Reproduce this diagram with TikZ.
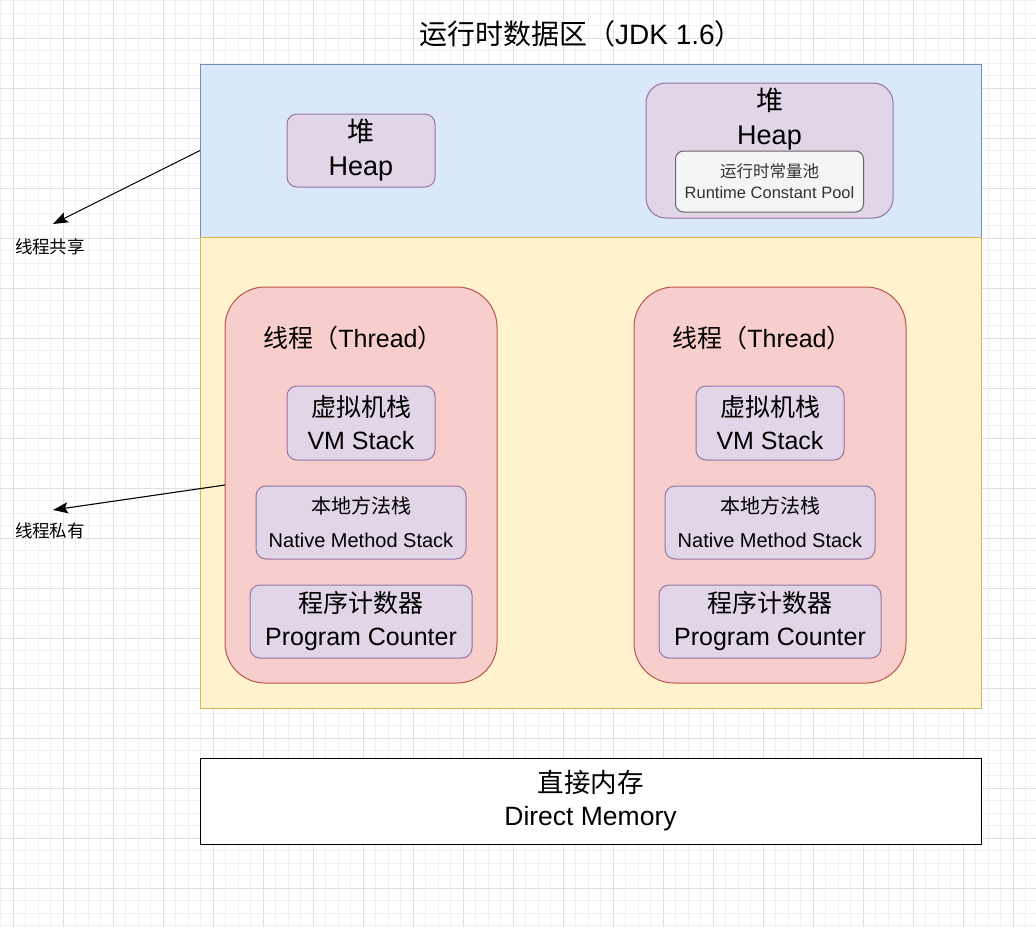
\documentclass[tikz,border=0pt]{standalone}
\usepackage{fontspec}
\setmainfont{Liberation Sans}
\newfontfamily\cjk{Noto Sans CJK SC}
\usepackage{xcolor}
\usetikzlibrary{positioning, calc, arrows.meta}

\definecolor{blueFill}{HTML}{DAE8FC}
\definecolor{blueLine}{HTML}{6C8EBF}
\definecolor{yellowFill}{HTML}{FFF2CC}
\definecolor{yellowLine}{HTML}{D6B656}
\definecolor{redFill}{HTML}{F8CECC}
\definecolor{redLine}{HTML}{B85450}
\definecolor{purpleFill}{HTML}{E1D5E7}
\definecolor{purpleLine}{HTML}{9673A6}
\definecolor{grayFill}{HTML}{F5F5F5}
\definecolor{grayLine}{HTML}{666666}
\definecolor{grayText}{HTML}{333333}
\definecolor{minorGrid}{HTML}{F0F0F0}
\definecolor{majorGrid}{HTML}{E0E0E0}

\begin{document}
\begin{tikzpicture}[x=1pt, y=-1pt, >=Latex, line width=1pt]
    % Styles
    \tikzset{
        region/.style={rectangle, draw, minimum width=781pt, outer sep=0pt},
        thread/.style={rectangle, draw=redLine, fill=redFill, rounded corners=40pt, minimum width=272pt, minimum height=396pt, outer sep=0pt},
        part/.style={rectangle, draw=purpleLine, fill=purpleFill, rounded corners=10pt, align=center, minimum height=73pt, outer sep=0pt},
        pool/.style={rectangle, draw=grayLine, fill=grayFill, text=grayText, rounded corners=8pt, align=center, minimum width=188pt, minimum height=61pt, outer sep=0pt},
        note/.style={font=\fontsize{17.5}{21}\selectfont\cjk},
        line/.style={draw, -{Stealth[length=15pt, width=11pt, inset=3pt]}, line width=1.1pt},
        big/.style={font=\fontsize{27}{34}\selectfont},
        mid/.style={font=\fontsize{25}{33}\selectfont},
        small/.style={font=\fontsize{20}{34}\selectfont}
    }

    \useasboundingbox (0,0) rectangle (1036,927);

    % Grid
    \fill[white] (0,0) rectangle (1036,927);
    \foreach \i in {0,...,82} \draw[minorGrid, line width=0.8pt] ({0.8+12.5*\i},0) -- ({0.8+12.5*\i},927);
    \foreach \i in {0,...,74} \draw[minorGrid, line width=0.8pt] (0,{0.8+12.5*\i}) -- (1036,{0.8+12.5*\i});
    \foreach \i in {0,...,20} \draw[majorGrid, line width=0.8pt] ({13.3+50*\i},0) -- ({13.3+50*\i},927);
    \foreach \i in {0,...,17} \draw[majorGrid, line width=0.8pt] (0,{38.3+50*\i}) -- (1036,{38.3+50*\i});

    % Title
    \node [font=\fontsize{28}{34}\selectfont] (title) at (581,34) {{\cjk 运行时数据区（}JDK 1.6{\cjk ）}};

    % Regions
    \node [region, draw=blueLine, fill=blueFill, minimum height=173pt] (shared) at (590.5,150.5) {};
    \node [region, draw=yellowLine, fill=yellowFill, minimum height=471pt] (private) at (590.5,472.5) {};
    \node [region, draw=black, fill=white, minimum height=86pt, align=center, font=\fontsize{26.5}{33}\selectfont] (direct) at (590.5,801) {{\cjk 直接内存}\\Direct Memory};

    % Heap
    \node [part, big, minimum width=148pt] (heapA) at (361,150.5) {{\cjk 堆}\\Heap};
    \node [part, minimum width=247pt, minimum height=135pt, rounded corners=20pt] (heapB) at (769.5,150.5) {};
    \node [big, align=center] (heapBtext) at ($(heapB.north)+(0,36)$) {{\cjk 堆}\\Heap};
    \node [pool, above=6pt of heapB.south, font=\fontsize{16.5}{21}\selectfont] (constPool) {{\cjk 运行时常量池}\\Runtime Constant Pool};

    % Threads
    \node [thread] (threadA) at (361,485) {};
    \node [thread, right=137pt of threadA] (threadB) {};
    \foreach \t in {A,B} {
        \node [mid] (title\t) at ($(thread\t.north)+(-8,51)$) {{\cjk 线程（}Thread{\cjk ）}};
        \node [part, mid, minimum width=148pt, minimum height=74pt] (vm\t) at ($(thread\t.north)+(0,136)$) {{\cjk 虚拟机栈}\\VM Stack};
        \node [part, small, minimum width=210pt, below=26pt of vm\t] (native\t) {{\cjk 本地方法栈}\\Native Method Stack};
        \node [part, mid, minimum width=222pt, below=26pt of native\t] (pc\t) {{\cjk 程序计数器}\\Program Counter};
    }

    % Side notes
    \node [note] (sharedNote) at (50,247) {线程共享};
    \node [note] (privateNote) at (50,531) {线程私有};
    \coordinate (sharedTip) at (53,224);
    \coordinate (privateTip) at (53,510);

    % Edges
    \draw [line] (shared.west) -- (sharedTip);
    \draw [line] (threadA.west) -- (privateTip);
\end{tikzpicture}
\end{document}
